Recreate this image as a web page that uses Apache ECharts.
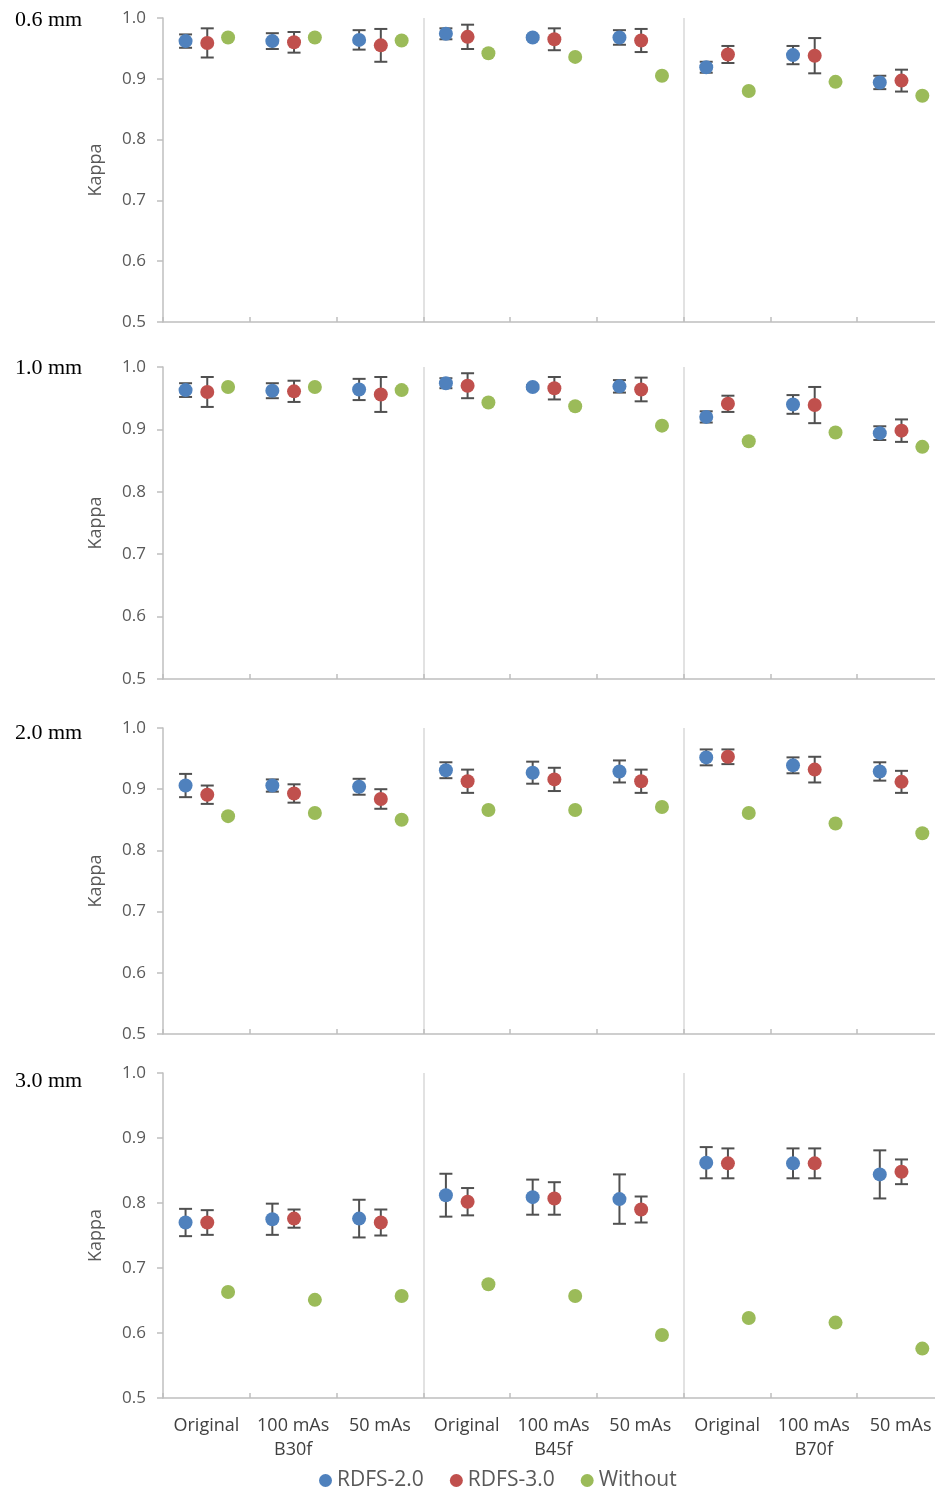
<!DOCTYPE html>
<html>
<head>
<meta charset="utf-8">
<script src="https://cdn.jsdelivr.net/npm/echarts@6/dist/echarts.min.js"></script>
<style>
html,body{margin:0;padding:0;background:#fff;overflow:hidden;}
#chart{width:950px;height:1492px;}
</style>
</head>
<body>
<div id="chart"></div>
<script>
// ---- data ----
const levels = ['Original', '100 mAs', '50 mAs'];
const kernels = ['B30f', 'B45f', 'B70f'];
const panelTitles = ['0.6 mm', '1.0 mm', '2.0 mm', '3.0 mm'];
const seriesNames = ['RDFS-2.0', 'RDFS-3.0', 'Without'];
const yTicks = [0.5, 0.6, 0.7, 0.8, 0.9, 1.0];

const p06Rdfs2 = [0.962, 0.962, 0.964, 0.974, 0.968, 0.968, 0.919, 0.939, 0.894];
const p06Rdfs2Err = [0.011, 0.013, 0.016, 0.009, 0.003, 0.012, 0.009, 0.015, 0.011];
const p06Rdfs3 = [0.959, 0.960, 0.955, 0.969, 0.965, 0.963, 0.940, 0.938, 0.897];
const p06Rdfs3Err = [0.024, 0.017, 0.027, 0.020, 0.018, 0.019, 0.014, 0.029, 0.018];
const p06Without = [0.968, 0.968, 0.963, 0.942, 0.936, 0.905, 0.880, 0.895, 0.872];

const p10Rdfs2 = [0.963, 0.962, 0.964, 0.974, 0.968, 0.969, 0.920, 0.940, 0.894];
const p10Rdfs2Err = [0.011, 0.012, 0.017, 0.008, 0.003, 0.010, 0.009, 0.015, 0.011];
const p10Rdfs3 = [0.960, 0.961, 0.956, 0.970, 0.966, 0.964, 0.941, 0.939, 0.898];
const p10Rdfs3Err = [0.024, 0.017, 0.028, 0.020, 0.018, 0.019, 0.013, 0.029, 0.018];
const p10Without = [0.968, 0.968, 0.963, 0.943, 0.937, 0.906, 0.881, 0.895, 0.872];

const p20Rdfs2 = [0.906, 0.906, 0.904, 0.931, 0.927, 0.929, 0.952, 0.939, 0.929];
const p20Rdfs2Err = [0.019, 0.010, 0.013, 0.013, 0.018, 0.018, 0.013, 0.013, 0.015];
const p20Rdfs3 = [0.891, 0.893, 0.884, 0.913, 0.916, 0.913, 0.953, 0.932, 0.912];
const p20Rdfs3Err = [0.015, 0.015, 0.016, 0.019, 0.019, 0.019, 0.012, 0.021, 0.018];
const p20Without = [0.856, 0.861, 0.850, 0.866, 0.866, 0.871, 0.861, 0.844, 0.828];

const p30Rdfs2 = [0.770, 0.775, 0.776, 0.812, 0.809, 0.806, 0.862, 0.861, 0.844];
const p30Rdfs2Err = [0.021, 0.024, 0.029, 0.033, 0.027, 0.038, 0.024, 0.023, 0.037];
const p30Rdfs3 = [0.770, 0.776, 0.770, 0.802, 0.807, 0.790, 0.861, 0.861, 0.848];
const p30Rdfs3Err = [0.019, 0.014, 0.020, 0.021, 0.025, 0.020, 0.023, 0.023, 0.019];
const p30Without = [0.663, 0.651, 0.657, 0.675, 0.657, 0.597, 0.623, 0.616, 0.576];

// ---- build ----
const categories = [];
kernels.forEach(k => levels.forEach(l => categories.push(l + '|' + k)));

const panels = [
  [[p06Rdfs2, p06Rdfs2Err], [p06Rdfs3, p06Rdfs3Err], [p06Without, null]],
  [[p10Rdfs2, p10Rdfs2Err], [p10Rdfs3, p10Rdfs3Err], [p10Without, null]],
  [[p20Rdfs2, p20Rdfs2Err], [p20Rdfs3, p20Rdfs3Err], [p20Without, null]],
  [[p30Rdfs2, p30Rdfs2Err], [p30Rdfs3, p30Rdfs3Err], [p30Without, null]]
];

const colors = ['#4F81BD', '#C0504D', '#9BBB59'];
const offsets = [-0.24, 0.01, 0.25];
const grids = [
  {top: 18, height: 304},
  {top: 367, height: 312},
  {top: 728, height: 306},
  {top: 1073, height: 325}
];
const titleCenters = [18, 366, 731, 1079];
const FONT = '"Open Sans", "Noto Sans", sans-serif';

const option = {
  animation: false,
  backgroundColor: '#fff',
  title: panelTitles.map((t, i) => ({
    text: t, left: 10, top: titleCenters[i] - 14,
    textStyle: {fontFamily: '"Liberation Serif", "DejaVu Serif", serif', fontSize: 22, fontWeight: 'normal', color: '#000'}
  })),
  legend: {
    data: seriesNames.map((n, i) => ({name: n, itemStyle: {color: colors[i]}})),
    icon: 'circle', itemWidth: 13, itemHeight: 13, itemGap: 26,
    left: 314, top: 1465,
    textStyle: {fontFamily: FONT, fontSize: 21, color: '#595959'}
  },
  grid: grids.map(g => ({left: 163, width: 781, top: g.top, height: g.height})),
  xAxis: grids.map((g, i) => ({
    type: 'category', gridIndex: i, data: categories, boundaryGap: true,
    axisLine: {show: true, lineStyle: {color: '#bfbfbf', width: 1.5}},
    axisTick: {show: true, inside: true, length: 5, interval: 0, lineStyle: {color: '#bfbfbf', width: 1.5}},
    splitLine: {show: true, interval: (idx) => idx === 3 || idx === 6, lineStyle: {color: '#d9d9d9', width: 1.5}},
    axisLabel: {
      show: i === 3, interval: 0, margin: 16, fontFamily: FONT, fontSize: 18, color: '#404040', lineHeight: 24,
      formatter: (v) => { const [l, k] = v.split('|'); return l === levels[1] ? l + '\n' + k : l; }
    }
  })),
  yAxis: grids.map((g, i) => ({
    type: 'value', gridIndex: i, min: 0.5, max: 1.0, interval: 0.1,
    name: 'Kappa', nameLocation: 'middle', nameGap: 58, nameRotate: 90,
    nameTextStyle: {fontFamily: FONT, fontSize: 18, color: '#595959'},
    axisLine: {show: true, lineStyle: {color: '#bfbfbf', width: 1.5}},
    axisTick: {show: true, length: 6, lineStyle: {color: '#bfbfbf', width: 1.5}},
    splitLine: {show: false},
    axisLabel: {margin: 17, fontFamily: FONT, fontSize: 17, color: '#595959',
      formatter: (v) => yTicks.some(t => Math.abs(t - v) < 1e-9) ? v.toFixed(1) : ''}
  })),
  series: []
};

panels.forEach((panel, pi) => {
  panel.forEach(([vals, errs], si) => {
    const off = offsets[si];
    option.series.push({
      type: 'custom', name: seriesNames[si], xAxisIndex: pi, yAxisIndex: pi,
      itemStyle: {color: colors[si]},
      data: vals.map((v, ci) => [ci, v, errs ? errs[ci] : 0]),
      encode: {x: 0, y: 1},
      renderItem: (params, api) => {
        const x = api.value(0), y = api.value(1), e = api.value(2);
        const c = api.coord([x, y]);
        const band = api.size([1, 0])[0];
        const cx = c[0] + off * band;
        const children = [];
        if (e > 0) {
          const top = api.coord([x, y + e])[1];
          const bot = api.coord([x, y - e])[1];
          const ls = {stroke: '#505050', lineWidth: 2};
          children.push({type: 'line', shape: {x1: cx, y1: top, x2: cx, y2: bot}, style: ls});
          children.push({type: 'line', shape: {x1: cx - 6.5, y1: top, x2: cx + 6.5, y2: top}, style: ls});
          children.push({type: 'line', shape: {x1: cx - 6.5, y1: bot, x2: cx + 6.5, y2: bot}, style: ls});
        }
        children.push({type: 'circle', shape: {cx: cx, cy: c[1], r: 7}, style: {fill: colors[si]}});
        return {type: 'group', children: children};
      }
    });
  });
});

const chart = echarts.init(document.getElementById('chart'), null, {renderer: 'canvas'});
chart.setOption(option);
</script>
</body>
</html>
